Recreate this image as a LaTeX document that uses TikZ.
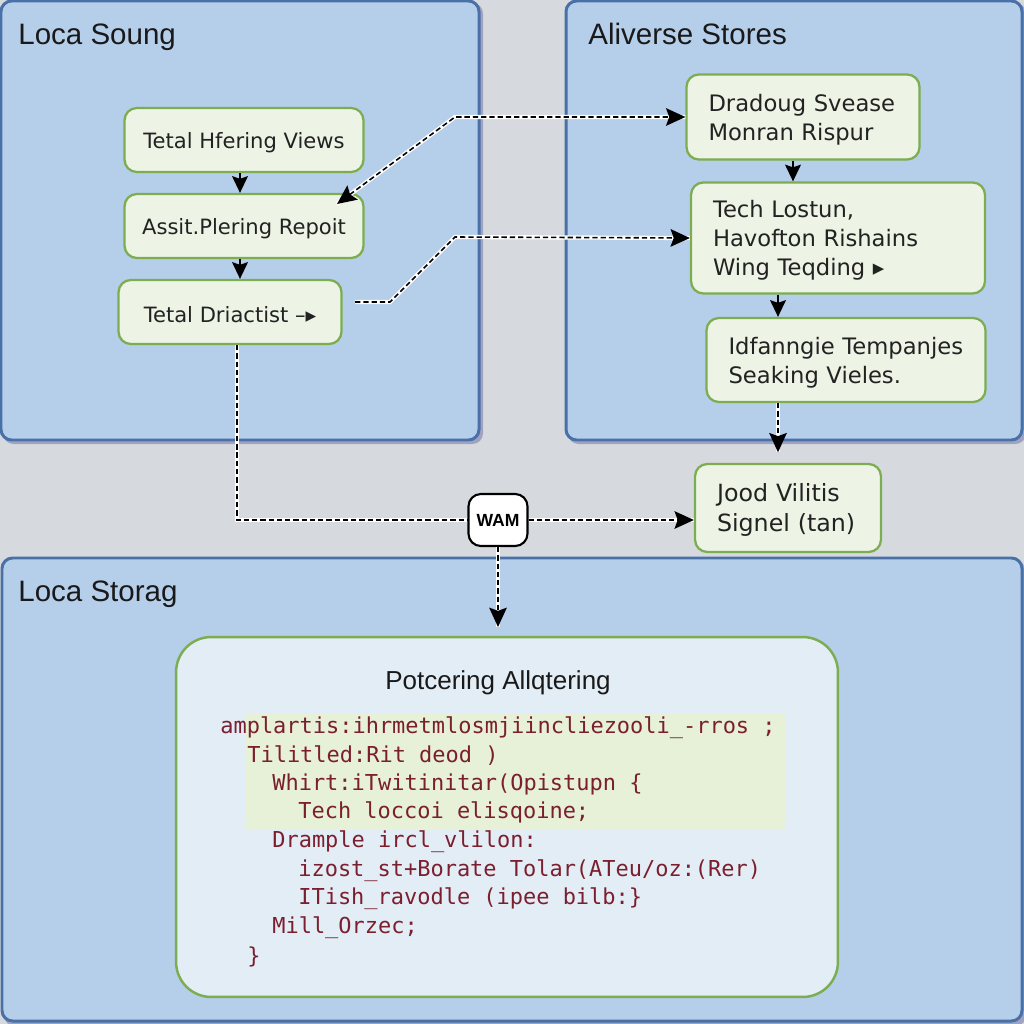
\documentclass[tikz,border=0pt]{standalone}
\usepackage{fontspec}
\setmainfont{DejaVu Sans}
\setmonofont{DejaVu Sans Mono}
\newfontfamily\titlefont{Liberation Sans}
\usetikzlibrary{arrows.meta}
\definecolor{bgc}{HTML}{D6DADF}
\definecolor{panelfill}{HTML}{B5CEEA}
\definecolor{paneldraw}{HTML}{4A70A8}
\definecolor{nodefill}{HTML}{EDF3E5}
\definecolor{nodedraw}{HTML}{7CAD50}
\definecolor{bigfill}{HTML}{E3EDF6}
\definecolor{hlfill}{HTML}{E7F1D8}
\definecolor{codec}{HTML}{7B1F2E}
\definecolor{txt}{HTML}{222222}
\newcommand{\tup}{\rule{0pt}{12.6pt}}
\tikzset{
  panel/.style={draw=paneldraw, line width=1.7pt, fill=panelfill, rounded corners=6pt},
  pshadow/.style={fill=black!60!blue, opacity=0.25, rounded corners=6pt},
  ptitle/.style={font=\titlefont\fontsize{16.8}{20}\selectfont, text=black!90, anchor=base west, inner sep=0pt},
  gbox/.style={draw=nodedraw, line width=1.3pt, fill=nodefill, rounded corners=7pt, text=txt, inner sep=0pt},
  lbox/.style={gbox, font=\fontsize{12}{16.4}\selectfont, align=center},
  rbox/.style={gbox, font=\fontsize{12.9}{16.4}\selectfont, align=left, inner xsep=0.44cm, inner ysep=0pt},
  tipS/.tip={Stealth[length=9.5pt,width=9pt,inset=1.5pt]},
  tipD/.tip={Stealth[length=11pt,width=10pt,inset=1.8pt]},
  solidarr/.style={draw=black, line width=1pt, -tipS},
  dline/.style={draw=black, line width=0.9pt, dash pattern=on 3pt off 1.7pt,
    preaction={draw=white, line width=2.4pt, solid, -}},
  darr/.style={dline, -tipD},
  codeline/.style={font=\ttfamily\fontsize{12.5}{15}\selectfont, text=codec, anchor=west, inner sep=0pt, text height=9pt, text depth=2.5pt},
}
\begin{document}
\begin{tikzpicture}[x=0.02cm, y=-0.02cm]
\useasboundingbox (0,0) rectangle (1024,1024);
\fill[bgc] (0,0) rectangle (1024,1024);

% panels
\fill[pshadow] (3,3) rectangle (483,444);
\draw[panel] (1,1) rectangle (479,440);
\fill[pshadow] (568,3) rectangle (1026,444);
\draw[panel] (566,1) rectangle (1022,440);
\fill[pshadow] (4,561) rectangle (1026,1026);
\draw[panel] (2,558) rectangle (1022,1021);

\node[ptitle] (t1) at (18,45) {Loca Soung};
\node[ptitle] (t2) at (588,45) {Aliverse Stores};
\node[ptitle] (t3) at (18,601) {Loca Storag};

% left nodes
\node[lbox, minimum width=4.78cm, minimum height=1.28cm] (TH) at (244,140) {\tup Tetal Hfering Views};
\node[lbox, minimum width=4.78cm, minimum height=1.28cm] (AP) at (244,226) {\tup Assit.Plering Repoit};
\node[lbox, minimum width=4.46cm, minimum height=1.28cm] (TD) at (230,312) {\tup Tetal Driactist –▸};

% right nodes
\node[rbox, text width=3.78cm, minimum height=1.7cm] (DS) at (803,117) {\tup Dradoug Svease\\Monran Rispur};
\node[rbox, text width=5.0cm, minimum height=2.22cm] (TL) at (838,238) {\tup Tech Lostun,\\Havofton Rishains\\Wing Teqding ▸};
\node[rbox, text width=4.7cm, minimum height=1.68cm] (IT) at (846,360) {\tup Idfanngie Tempanjes\\Seaking Vieles.};
\node[rbox, text width=2.84cm, minimum height=1.76cm, font=\fontsize{13.5}{17}\selectfont] (JV) at (788,508) {\tup Jood Vilitis\\Signel (tan)};

% WAM
\node[draw=black, line width=1.2pt, fill=white, rounded corners=7pt, minimum width=1.18cm, minimum height=1.04cm, inner sep=0pt, font=\titlefont\bfseries\fontsize{10}{12}\selectfont] (WAM) at (498,520) {WAM};

% big box
\node[draw=nodedraw, line width=1.4pt, fill=bigfill, rounded corners=20pt, minimum width=13.24cm, minimum height=7.2cm, inner sep=0pt] (big) at (507,817) {};
\node[font=\titlefont\fontsize{14.8}{18}\selectfont, text=black!90, inner sep=0pt] (bt) at (498,683) {Potcering Allqtering};
\fill[hlfill] (245,713) rectangle (785,830);

\node[codeline] (c1) at (220,728) {amplartis:ihrmetmlosmjiincliezooli\_-rros ;};
\node[codeline] (c2) at (247,757) {Tilitled:Rit deod )};
\node[codeline] (c3) at (272,785) {Whirt:iTwitinitar(Opistupn \{};
\node[codeline] (c4) at (298,813) {Tech loccoi elisqoine;};
\node[codeline] (c5) at (272,842) {Drample ircl\_vlilon:};
\node[codeline] (c6) at (298,871) {izost\_st+Borate Tolar(ATeu/oz:(Rer)};
\node[codeline] (c7) at (298,899) {ITish\_ravodle (ipee bilb:\}};
\node[codeline] (c8) at (272,928) {Mill\_Orzec;};
\node[codeline] (c9) at (247,958) {\}};

% helper coordinates
\coordinate (apin) at (337,204);
\coordinate (k1) at (455,117);
\coordinate (tdout) at (355,302);
\coordinate (k2) at (390,302);
\coordinate (k3) at (455,237);
\coordinate (xr) at (778,0);
\coordinate (xd) at (793,0);
\coordinate (xl) at (237,0);
\coordinate (xa) at (240,0);

% solid arrows
\draw[solidarr] (TH.south -| xa) -- (AP.north -| xa);
\draw[solidarr] (AP.south -| xa) -- (TD.north -| xa);
\draw[solidarr] (DS.south -| xd) -- (TL.north -| xd);
\draw[solidarr] (TL.south -| xr) -- (IT.north -| xr);

% dashed connectors
\draw[dline, tipD-tipD] (apin) -- (k1) -- (DS.west);
\draw[darr] (tdout) -- (k2) -- (k3) -- (TL.west);
\draw[dline] (TD.south -| xl) -- (WAM.west -| xl) -- (WAM.west);
\draw[darr] (WAM.east) -- (WAM.east -| JV.west);
\draw[darr, shorten >=5pt] (WAM.south) -- (WAM.south |- big.north);
\draw[darr, shorten >=6pt] (IT.south -| xr) -- (JV.north -| xr);
\end{tikzpicture}
\end{document}
